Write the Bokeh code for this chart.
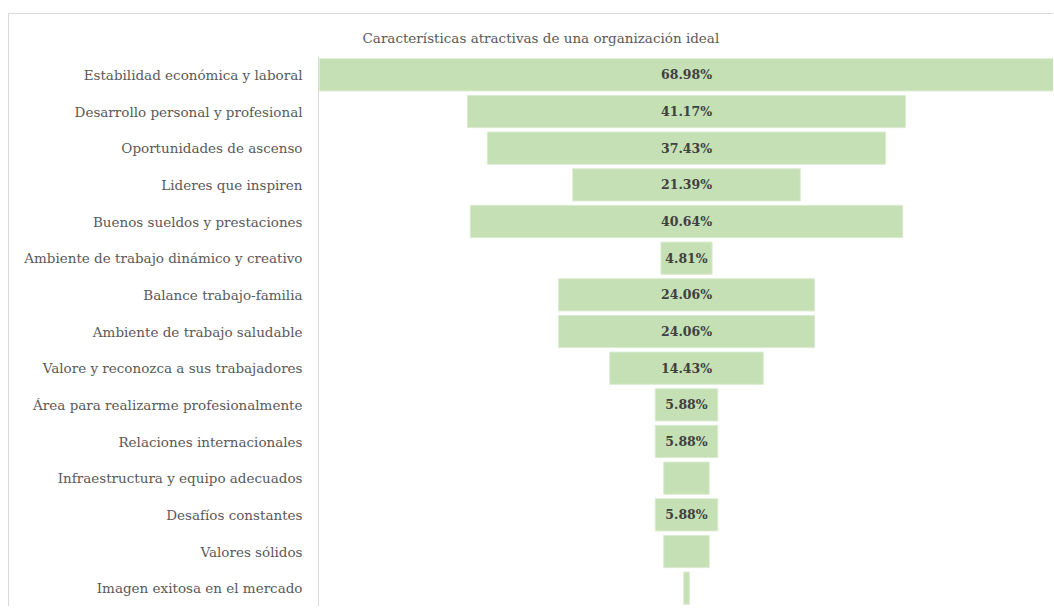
from bokeh.plotting import figure
from bokeh.models import ColumnDataSource, FactorRange, Range1d, Title
from bokeh.core.properties import value
from bokeh.embed import file_html
from bokeh.resources import INLINE

title_text = "Características atractivas de una organización ideal"

categories = [
    "Estabilidad económica y laboral",
    "Desarrollo personal y profesional",
    "Oportunidades de ascenso",
    "Lideres que inspiren",
    "Buenos sueldos y prestaciones",
    "Ambiente de trabajo dinámico y creativo",
    "Balance trabajo-familia",
    "Ambiente de trabajo saludable",
    "Valore y reconozca a sus trabajadores",
    "Área para realizarme profesionalmente",
    "Relaciones internacionales",
    "Infraestructura y equipo adecuados",
    "Desafíos constantes",
    "Valores sólidos",
    "Imagen exitosa en el mercado",
]
values = [68.98, 41.17, 37.43, 21.39, 40.64, 4.81, 24.06, 24.06, 14.43,
          5.88, 5.88, 4.28, 5.88, 4.28, 0.53]
# labels shown in the reference (two small bars and the last have no label)
label_texts = ["68.98%", "41.17%", "37.43%", "21.39%", "40.64%", "4.81%",
               "24.06%", "24.06%", "14.43%", "5.88%", "5.88%", "", "5.88%", "", ""]

src = ColumnDataSource(dict(
    cat=categories,
    left=[-v / 2 for v in values],
    right=[v / 2 for v in values],
    lab=label_texts,
    zero=[0] * len(values),
))

half = max(values) * 736 / 734 / 2

p = figure(
    width=1045, height=593,
    y_range=FactorRange(factors=categories[::-1]),
    x_range=Range1d(-half, half),
    output_backend="svg", toolbar_location=None, tools="",
    min_border_left=309, min_border_right=0, min_border_top=42, min_border_bottom=1,
)
p.styles = {"margin-top": "13px", "margin-left": "8px",
            "border-top": "1px solid #d9d9d9", "border-left": "1px solid #d9d9d9"}

p.hbar(y="cat", left="left", right="right", height=0.88, source=src,
       fill_color="#C5E0B4", line_color="#dcebd2", line_width=1)

p.text(x="zero", y="cat", text="lab", source=src,
       text_align="center", text_baseline="middle",
       text_font=value("DejaVu Serif"), text_font_style="bold",
       text_font_size="12.5px", text_color="#404040")

t = Title(text=title_text, align="left", offset=44,
          text_font="DejaVu Serif", text_font_size="13.5px",
          text_font_style="normal", text_color="#595959", standoff=21)
p.add_layout(t, "above")

p.xaxis.visible = False
p.xgrid.visible = False
p.ygrid.visible = False
p.outline_line_color = None

ya = p.yaxis[0]
ya.axis_line_color = "#d9d9d9"
ya.axis_line_width = 1
ya.major_tick_line_color = None
ya.minor_tick_line_color = None
ya.major_label_text_font = "DejaVu Serif"
ya.major_label_text_font_size = "13.5px"
ya.major_label_text_color = "#595959"
ya.major_label_standoff = 10

p.background_fill_color = "white"
p.border_fill_color = "white"

open("out.html", "w").write(file_html(p, INLINE))
